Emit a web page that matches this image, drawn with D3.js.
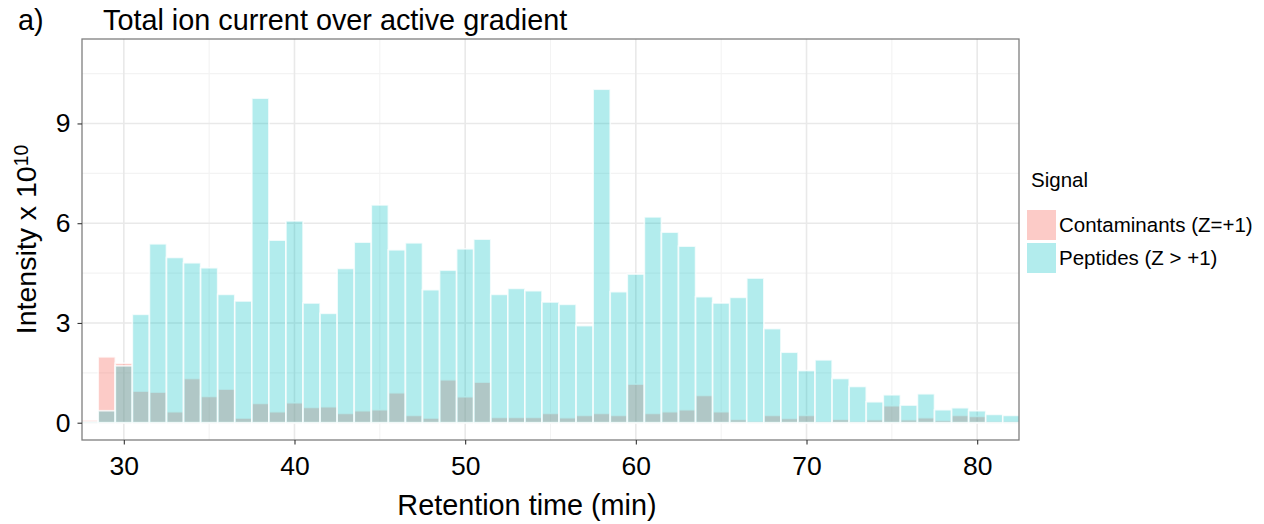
<!DOCTYPE html>
<html>
<head>
<meta charset="utf-8">
<script src="https://cdn.jsdelivr.net/npm/d3@7"></script>
<style>
  html, body { margin: 0; padding: 0; background: #fff; }
  svg { display: block; font-family: "Liberation Sans", Arial, Helvetica, sans-serif; }
</style>
</head>
<body>
<svg id="chart" width="1264" height="524"></svg>
<script>
// Retention time bins (min)
const times = [28,29,30,31,32,33,34,35,36,37,38,39,40,41,42,43,44,45,46,47,48,49,50,51,52,53,54,55,
  56,57,58,59,60,61,62,63,64,65,66,67,68,69,70,71,72,73,74,75,76,77,78,79,80,81,82];
// Intensity x 10^10
const peptides = [0.03,0.36,1.71,3.26,5.38,4.97,4.81,4.66,3.86,3.66,9.76,5.49,6.07,3.60,3.29,4.64,5.43,6.55,
  5.20,5.41,4.00,4.59,5.23,5.52,3.86,4.04,3.97,3.63,3.56,2.92,10.03,3.94,4.47,6.19,5.73,5.31,3.79,3.60,3.77,
  4.35,2.83,2.12,1.57,1.89,1.33,1.09,0.63,0.84,0.53,0.87,0.39,0.45,0.36,0.25,0.22];
const contaminants = [0.08,1.98,1.79,0.95,0.92,0.33,1.33,0.79,1.01,0.14,0.58,0.33,0.60,0.46,0.48,0.28,0.36,0.39,
  0.90,0.22,0.14,1.29,0.78,1.22,0.16,0.16,0.16,0.28,0.15,0.22,0.28,0.22,1.16,0.28,0.33,0.39,0.82,0.33,0.10,
  0.04,0.22,0.13,0.22,0.04,0.10,0.04,0.09,0.51,0.09,0.15,0.07,0.22,0.19,0.04,0.04];
const xTicks = [30,40,50,60,70,80];
const xMinor = [35,45,55,65,75];
const yTicks = [0,3,6,9];
const yMinor = [1.5,4.5,7.5,10.5];
const seriesNames = ["Contaminants (Z=+1)", "Peptides (Z > +1)"];
const seriesColors = ["#F8766D", "#00BFC4"];
const seriesAlpha = [0.38, 0.3];
const titleText = "Total ion current over active gradient";

const svg = d3.select("#chart");
const L = 82, R = 1019, T = 39, B = 440;
const x = d3.scaleLinear().domain([27.55, 82.45]).range([L, R]);
const y = d3.scaleLinear().domain([-0.52, 11.54]).range([B, T]);

svg.append("defs").append("clipPath").attr("id", "clip")
  .append("rect").attr("x", L).attr("y", T).attr("width", R - L).attr("height", B - T);

// gridlines
const grid = svg.append("g");
grid.selectAll(".ymin").data(yMinor).join("line")
  .attr("x1", L).attr("x2", R).attr("y1", d => y(d)).attr("y2", d => y(d))
  .attr("stroke", "#f3f3f3").attr("stroke-width", 1.1);
grid.selectAll(".xmin").data(xMinor).join("line")
  .attr("y1", T).attr("y2", B).attr("x1", d => x(d)).attr("x2", d => x(d))
  .attr("stroke", "#f3f3f3").attr("stroke-width", 1.1);
grid.selectAll(".ymaj").data(yTicks).join("line")
  .attr("x1", L).attr("x2", R).attr("y1", d => y(d)).attr("y2", d => y(d))
  .attr("stroke", "#e9e9e9").attr("stroke-width", 1.6);
grid.selectAll(".xmaj").data(xTicks).join("line")
  .attr("y1", T).attr("y2", B).attr("x1", d => x(d)).attr("x2", d => x(d))
  .attr("stroke", "#e9e9e9").attr("stroke-width", 1.6);

// bars
const bars = svg.append("g").attr("clip-path", "url(#clip)");
[contaminants, peptides].forEach((vals, si) => {
  bars.append("g").selectAll("rect").data(times.map((t, i) => ({t, v: vals[i]}))).join("rect")
    .attr("x", d => x(d.t - 0.5))
    .attr("width", d => x(d.t + 0.5) - x(d.t - 0.5))
    .attr("y", d => y(d.v))
    .attr("height", d => y(0) - y(d.v))
    .attr("fill", seriesColors[si]).attr("fill-opacity", seriesAlpha[si])
    .attr("stroke", "#fff").attr("stroke-opacity", 0.75).attr("stroke-width", 1.7);
});

// panel border
svg.append("rect").attr("x", L).attr("y", T).attr("width", R - L).attr("height", B - T)
  .attr("fill", "none").attr("stroke", "#7f7f7f").attr("stroke-width", 1.3);

// axes
const xAxis = svg.append("g").attr("transform", `translate(0,${B})`)
  .call(d3.axisBottom(x).tickValues(xTicks).tickSize(4.5).tickPadding(12).tickFormat(d3.format("d")));
const yAxis = svg.append("g").attr("transform", `translate(${L},0)`)
  .call(d3.axisLeft(y).tickValues(yTicks).tickSize(4.5).tickPadding(7).tickFormat(d3.format("d")));
[xAxis, yAxis].forEach(a => {
  a.select(".domain").remove();
  a.selectAll(".tick line").attr("stroke", "#333").attr("stroke-width", 1.1);
  a.selectAll(".tick text").attr("fill", "#000").attr("font-size", 26.5)
    .attr("font-family", "'Liberation Sans', Arial, sans-serif");
});

// titles
svg.append("text").attr("x", 18).attr("y", 29.5).attr("font-size", 28.8).attr("fill", "#000").text("a)");
svg.append("text").attr("x", 103).attr("y", 29.5).attr("font-size", 28.8).attr("fill", "#000").text(titleText);
svg.append("text").attr("x", 527).attr("y", 515).attr("text-anchor", "middle")
  .attr("font-size", 28.8).attr("fill", "#000").text("Retention time (min)");
const yl = svg.append("text").attr("transform", `translate(36,${(T + B) / 2}) rotate(-90)`)
  .attr("text-anchor", "middle").attr("font-size", 28.5).attr("fill", "#000");
yl.append("tspan").text("Intensity x 10");
yl.append("tspan").attr("dy", "-0.42em").attr("font-size", "0.68em").text("10");

// legend
const lg = svg.append("g");
lg.append("text").attr("x", 1031).attr("y", 187).attr("font-size", 20.5).attr("fill", "#000").text("Signal");
seriesNames.forEach((name, i) => {
  const ky = 210 + i * 33;
  lg.append("rect").attr("x", 1027).attr("y", ky).attr("width", 29).attr("height", 30)
    .attr("fill", seriesColors[i]).attr("fill-opacity", seriesAlpha[i]);
  lg.append("text").attr("x", 1059).attr("y", ky + 15).attr("dy", "0.36em")
    .attr("font-size", 20.5).attr("fill", "#000").text(name);
});
</script>
</body>
</html>
